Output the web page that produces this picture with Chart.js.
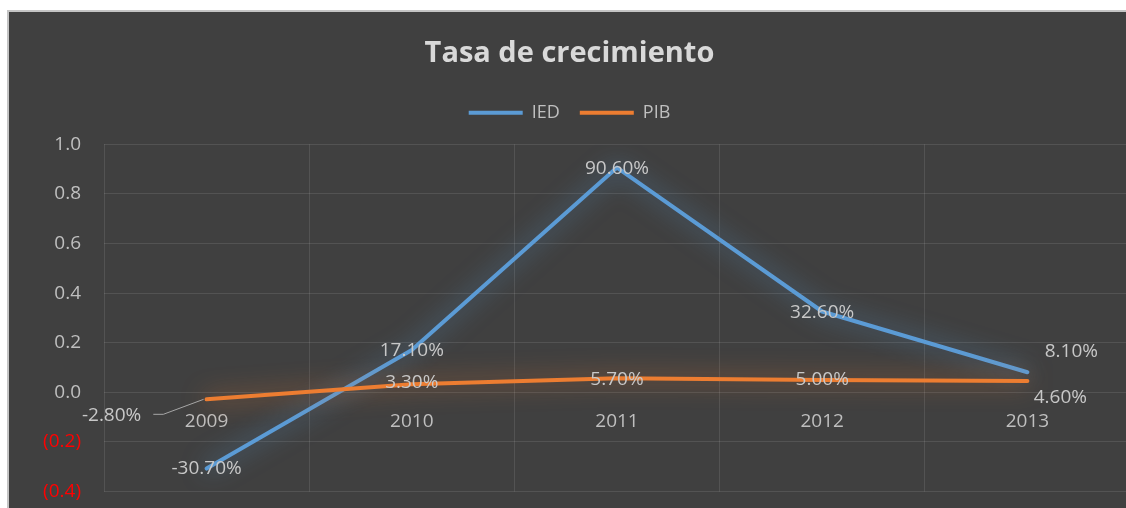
<!DOCTYPE html>
<html>
<head>
<meta charset="utf-8">
<title>Tasa de crecimiento</title>
<script src="https://cdn.jsdelivr.net/npm/chart.js@4.4.1/dist/chart.umd.min.js"></script>
<style>
  html, body { margin: 0; padding: 0; background: #fff; overflow: hidden; width: 1126px; height: 508px; }
  .panel {
    position: absolute; left: 7px; top: 10px; width: 1130px; height: 540px;
    background: #404040;
    border-top: 2px solid #c4c4c4; border-left: 2px solid #c4c4c4;
  }
  .chart-wrap { position: absolute; left: 0; top: 0; width: 1121px; height: 514px; }
</style>
</head>
<body>
<div class="panel">
  <div class="chart-wrap"><canvas id="growthChart"></canvas></div>
</div>
<script>
// datos del grafico
const years  = ['2009', '2010', '2011', '2012', '2013'];
const iedPct = [-0.307, 0.171, 0.906, 0.326, 0.081];
const pibPct = [-0.028, 0.033, 0.057, 0.050, 0.046];
const yTicks = [-0.4, -0.2, 0.0, 0.2, 0.4, 0.6, 0.8, 1.0];

const BLUE   = '#5b9bd5';
const ORANGE = '#ed7d31';
const GRID   = 'rgba(255,255,255,0.1)';
const TEXT   = '#bfbfbf';

Chart.defaults.font.family = "'Open Sans', sans-serif";

/* ── glow under each line ── */
const glowPlugin = {
  id: 'glow',
  beforeDatasetDraw(chart, args) {
    const ctx = chart.ctx;
    ctx.save();
    ctx.shadowColor = args.meta.dataset.options.borderColor + 'cc';
    ctx.shadowBlur = 24;
  },
  afterDatasetDraw(chart) {
    chart.ctx.restore();
  }
};

/* ── data labels (percent) ── */
const pctLabels = {
  id: 'pctLabels',
  afterDatasetsDraw(chart, args, opts) {
    const ctx = chart.ctx;
    ctx.save();
    ctx.font = '19px "Open Sans", sans-serif';
    ctx.fillStyle = '#c8c8c8';
    ctx.textAlign = 'center';
    ctx.textBaseline = 'middle';
    chart.data.datasets.forEach((ds, di) => {
      const meta = chart.getDatasetMeta(di);
      meta.data.forEach((pt, i) => {
        const off = opts.offsets[di][i];
        const txt = (ds.data[i] * 100).toFixed(2) + '%';
        const lx = pt.x + off[0], ly = pt.y + off[1];
        ctx.fillText(txt, lx, ly);
        if (opts.leader && opts.leader[0] === di && opts.leader[1] === i) {
          const w = ctx.measureText(txt).width;
          ctx.strokeStyle = '#a6a6a6';
          ctx.lineWidth = 1;
          ctx.beginPath();
          ctx.moveTo(lx + w / 2 + 12, ly - 1);
          ctx.lineTo(lx + w / 2 + 22, ly - 1);
          ctx.lineTo(pt.x - 3, pt.y);
          ctx.stroke();
        }
      });
    });
    ctx.restore();
  }
};

new Chart(document.getElementById('growthChart'), {
  type: 'line',
  data: {
    labels: years,
    datasets: [
      { label: 'IED', data: iedPct, borderColor: BLUE, backgroundColor: BLUE, borderWidth: 4, order: 1 },
      { label: 'PIB', data: pibPct, borderColor: ORANGE, backgroundColor: ORANGE, borderWidth: 4, order: 0 }
    ]
  },
  options: {
    responsive: true,
    maintainAspectRatio: false,
    animation: false,
    layout: { padding: { left: 0, right: 0, top: 0, bottom: 0 } },
    elements: {
      point: { radius: 0, hoverRadius: 0 },
      line: { tension: 0, borderCapStyle: 'round', borderJoinStyle: 'round' }
    },
    plugins: {
      title: {
        display: true,
        text: 'Tasa de crecimiento',
        color: '#d9d9d9',
        font: { size: 29, weight: '700' },
        padding: { top: 24, bottom: 13 }
      },
      legend: {
        display: true,
        labels: {
          color: TEXT,
          font: { size: 18 },
          usePointStyle: true,
          pointStyle: 'line',
          pointStyleWidth: 54,
          padding: 20,
          sort: (a, b) => a.datasetIndex - b.datasetIndex
        }
      },
      tooltip: { enabled: false },
      pctLabels: {
        offsets: [
          [[0, 0], [0, 1], [0, 1], [0, 1], [44, -21]],
          [[-95, 16], [0, -2], [0, 1], [0, 0], [33, 17]]
        ],
        leader: [1, 0]
      }
    },
    scales: {
      x: {
        type: 'category',
        position: { y: 0 },
        offset: true,
        grid: { color: GRID, offset: true, drawTicks: false },
        border: { display: false },
        ticks: { color: TEXT, font: { size: 19 }, padding: 18 }
      },
      xSpacer: {
        type: 'category',
        position: 'top',
        grid: { display: false },
        border: { display: false },
        ticks: { display: false },
        afterFit(s) { s.height = 12.5; }
      },
      y: {
        min: yTicks[0],
        max: yTicks[yTicks.length - 1],
        afterBuildTicks(s) { s.ticks = yTicks.map(v => ({ value: v })); },
        afterFit(s) { s.width = 95; },
        grid: { color: GRID, drawTicks: false },
        border: { display: false },
        ticks: {
          padding: 23,
          font: { size: 19 },
          color: (c) => c.tick.value < 0 ? '#ff0000' : TEXT,
          callback: (v) => v < 0 ? '(' + Math.abs(v).toFixed(1) + ')' : v.toFixed(1)
        }
      }
    }
  },
  plugins: [glowPlugin, pctLabels]
});
</script>
</body>
</html>
